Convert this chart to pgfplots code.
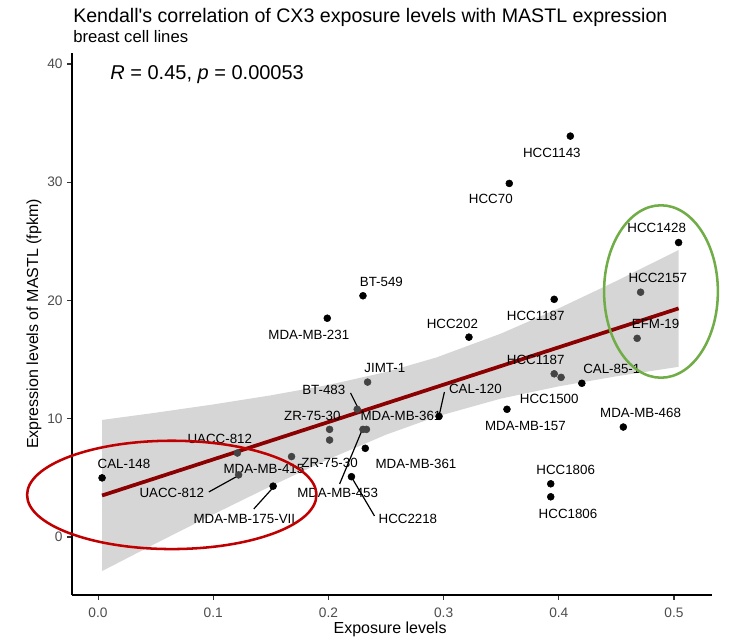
\documentclass[border=0pt]{standalone}
\usepackage{fontspec}
\setmainfont{Liberation Sans}[Ligatures=TeXOff]
\usepackage{pgfplots}
\pgfplotsset{compat=1.18}
\definecolor{ribbon}{gray}{0.6}
\definecolor{fitline}{HTML}{8B0000}
\definecolor{ellred}{HTML}{C00000}
\definecolor{ellgreen}{HTML}{70AD47}
\definecolor{ticktext}{HTML}{4D4D4D}
\definecolor{tickline}{HTML}{333333}
\definecolor{ptgrey}{HTML}{444444}
\tikzset{
  lab/.style={font=\fontsize{10}{12}\selectfont, inner sep=0pt, text=black},
  seg/.style={black, line width=0.9pt},
}
\begin{document}
\begin{tikzpicture}
\useasboundingbox (0,0) rectangle (548.25pt,479.25pt);
\begin{axis}[
  at={(54pt,33pt)}, anchor=south west,
  scale only axis, width=480pt, height=406.5pt,
  xmin=-0.0226, xmax=0.533, ymin=-4.905, ymax=40.93,
  axis lines=left, axis line style={black, line width=1.2pt, -},
  xtick={0,0.1,0.2,0.3,0.4,0.5},
  xticklabels={0.0,0.1,0.2,0.3,0.4,0.5},
  ytick={0,10,20,30,40},
  /pgf/number format/assume math mode=true,
  tick align=outside, major tick length=3.5pt,
  tick style={tickline, line width=0.8pt},
  ticklabel style={font=\fontsize{10.3}{12}\selectfont, text=ticktext},
  xticklabel style={yshift=-2.5pt},
  clip=false,
  xlabel={Exposure levels},
  ylabel={Expression levels of MASTL (fpkm)},
  label style={font=\fontsize{12}{14}\selectfont},
  xlabel style={at={(axis description cs:0.497,-0.0635)}, anchor=center},
  ylabel style={at={(axis description cs:-0.0595,0.5)}, anchor=center},
]
% confidence ribbon
\addplot[draw=none, fill=ribbon, fill opacity=0.4] coordinates {
(0.0035,9.90) (0.05,10.51) (0.1,11.21) (0.15,11.98) (0.2,12.86) (0.25,13.95)
(0.2937,15.18) (0.35,17.21) (0.4,19.34) (0.45,21.65) (0.504,24.27)
(0.504,14.39) (0.45,13.59) (0.4,12.74) (0.35,11.71) (0.2937,10.18)
(0.25,8.65) (0.2,6.58) (0.15,4.30) (0.1,1.91) (0.05,-0.55) (0.0035,-2.88)
} -- cycle;
% points outside the ribbon
\addplot[only marks, mark=*, mark size=2.6pt, black] coordinates {
(0.0035,5.0) (0.152,4.3) (0.232,7.5) (0.220,5.1) (0.199,18.5) (0.230,20.4)
(0.322,16.9) (0.296,10.2) (0.355,10.8) (0.393,4.5) (0.393,3.4)
(0.396,20.1) (0.410,33.9) (0.357,29.9)
(0.504,24.9) (0.420,13.0) (0.456,9.3)
};
% points seen through the ribbon
\addplot[only marks, mark=*, mark size=2.6pt, ptgrey] coordinates {
(0.121,7.1) (0.122,5.25) (0.168,6.8) (0.201,9.1) (0.201,8.2) (0.225,10.8)
(0.234,13.1) (0.230,9.1) (0.233,9.1) (0.396,13.8) (0.402,13.5)
(0.471,20.7) (0.468,16.8)
};
% fit line
\addplot[fitline, line width=2.8pt] coordinates {(0.0035,3.51) (0.504,19.33)};

% label segments
\draw[seg] (axis cs:0.0962,3.81) -- (axis cs:0.1196,5.07);
\draw[seg] (axis cs:0.1352,2.37) -- (axis cs:0.1516,4.14);
\draw[seg] (axis cs:0.2192,12.18) -- (axis cs:0.2262,10.82);
\draw[seg] (axis cs:0.2097,4.48) -- (axis cs:0.2296,9.13);
\draw[seg] (axis cs:0.240,1.78) -- (axis cs:0.220,5.07);
\draw[seg] (axis cs:0.3007,12.26) -- (axis cs:0.2964,10.40);

% labels
\node[lab] at (axis cs:0.0225,6.19) {CAL-148};
\node[lab] at (axis cs:0.1057,8.3) {UACC-812};
\node[lab] at (axis cs:0.144,5.76) {MDA-MB-415};
\node[lab] at (axis cs:0.064,3.73) {UACC-812};
\node[lab] at (axis cs:0.127,1.53) {MDA-MB-175-VII};
\node[lab] at (axis cs:0.186,10.25) {ZR-75-30};
\node[lab] at (axis cs:0.201,6.27) {ZR-75-30};
\node[lab] at (axis cs:0.196,12.46) {BT-483};
\node[lab] at (axis cs:0.249,14.3) {JIMT-1};
\node[lab] at (axis cs:0.263,10.25) {MDA-MB-361};
\node[lab] at (axis cs:0.208,3.73) {MDA-MB-453};
\node[lab] at (axis cs:0.269,1.53) {HCC2218};
\node[lab] at (axis cs:0.276,6.19) {MDA-MB-361};
\node[lab] at (axis cs:0.3276,12.5) {CAL-120};
\node[lab] at (axis cs:0.3076,18.05) {HCC202};
\node[lab] at (axis cs:0.183,17.1) {MDA-MB-231};
\node[lab] at (axis cs:0.246,21.6) {BT-549};
\node[lab] at (axis cs:0.380,18.7) {HCC1187};
\node[lab] at (axis cs:0.380,15.0) {HCC1187};
\node[lab] at (axis cs:0.3917,11.7) {HCC1500};
\node[lab] at (axis cs:0.371,9.4) {MDA-MB-157};
\node[lab] at (axis cs:0.446,14.2) {CAL-85-1};
\node[lab] at (axis cs:0.471,10.5) {MDA-MB-468};
\node[lab] at (axis cs:0.484,18.05) {EFM-19};
\node[lab] at (axis cs:0.486,21.9) {HCC2157};
\node[lab] at (axis cs:0.485,26.1) {HCC1428};
\node[lab] at (axis cs:0.394,32.5) {HCC1143};
\node[lab] at (axis cs:0.341,28.6) {HCC70};
\node[lab] at (axis cs:0.406,5.7) {HCC1806};
\node[lab] at (axis cs:0.408,1.95) {HCC1806};

% correlation annotation
\node[anchor=west, inner sep=0pt, font=\fontsize{15}{17}\selectfont] at (axis cs:0.0105,39.07) {\textit{R} = 0.45, \textit{p} = 0.00053};

% ellipses
\draw[ellred, line width=1.9pt] (axis cs:0.064,3.56) ellipse [x radius=0.1256, y radius=4.58];
\draw[ellgreen, line width=1.9pt] (axis cs:0.4887,20.76) ellipse [x radius=0.0494, y radius=7.29];
\end{axis}
\node[anchor=base west, inner sep=0pt, font=\fontsize{14.7}{17}\selectfont] at (54.75pt,462pt) {Kendall's correlation of CX3 exposure levels with MASTL expression};
\node[anchor=base west, inner sep=0pt, font=\fontsize{12.5}{14}\selectfont] at (54.75pt,447.5pt) {breast cell lines};
\end{tikzpicture}
\end{document}
